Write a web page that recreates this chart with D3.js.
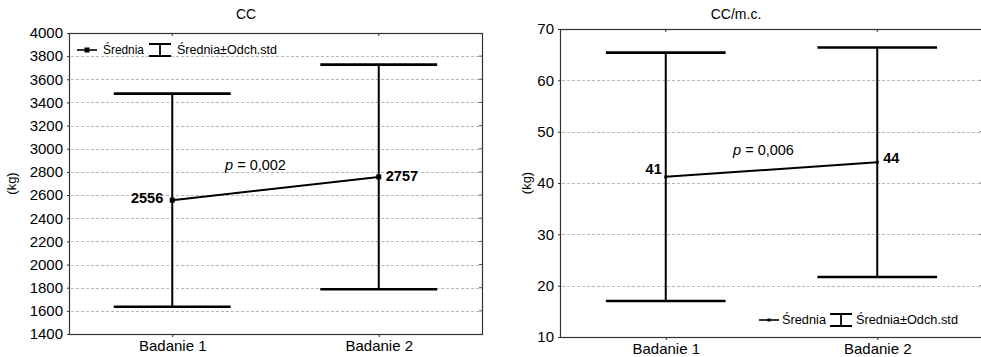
<!DOCTYPE html>
<html>
<head>
<meta charset="utf-8">
<script src="https://cdn.jsdelivr.net/npm/d3@7"></script>
<style>
html,body{margin:0;padding:0;background:#fff;overflow:hidden;}
text{font-family:"Liberation Sans",Arial,Helvetica,sans-serif;fill:#000;}
</style>
</head>
<body>
<svg id="chart" width="981" height="357"></svg>
<script>
// ---- data ----
const categories = ["Badanie 1", "Badanie 2"];
const ccMean = [2556, 2757];
const ccSD = [920, 970];
const ccTicks = [1400,1600,1800,2000,2200,2400,2600,2800,3000,3200,3400,3600,3800,4000];
const ccmcMean = [41.2, 44.05];
const ccmcSD = [24.2, 22.35];
const ccmcTicks = [10,20,30,40,50,60,70];
const titles = ["CC", "CC/m.c."];
const pTexts = ["0,002", "0,006"];
const yLabel = "(kg)";
const legendLabels = ["Średnia", "Średnia±Odch.std"];

const svg = d3.select("#chart");

function panel(cfg) {
  const g = svg.append("g");
  const x = d3.scalePoint().domain(categories).range([cfg.x0, cfg.x1]).padding(0.5);
  const y = d3.scaleLinear().domain(cfg.domain).range([cfg.yBot, cfg.yTop]);
  const step = x.step();
  const capHalf = step * 0.283;

  // title
  g.append("text").attr("x", cfg.titleX).attr("y", 19).attr("text-anchor", "middle")
    .style("font-size", "14px").text(cfg.title);

  // grid
  const inner = cfg.ticks.slice(1, -1);
  g.append("g").selectAll("line").data(inner).join("line")
    .attr("x1", cfg.x0 + 2).attr("x2", cfg.x1 - 1)
    .attr("y1", d => Math.round(y(d)) + 0.5).attr("y2", d => Math.round(y(d)) + 0.5)
    .attr("stroke", "#b8b8b8").attr("stroke-width", 1).attr("stroke-dasharray", "3,2");

  // axes
  const yAxis = d3.axisLeft(y).tickValues(cfg.ticks).tickSize(2).tickPadding(4).tickFormat(d3.format("d"));
  const ya = g.append("g").attr("transform", `translate(${cfg.x0},0)`).call(yAxis);
  ya.select(".domain").remove();
  ya.selectAll("text").style("font-size", "15px").attr("font-family", "Liberation Sans");
  ya.selectAll("line").attr("stroke", "#333");

  const xAxis = d3.axisBottom(x).tickSize(3).tickPadding(3);
  const xa = g.append("g").attr("transform", `translate(0,${cfg.yBot})`).call(xAxis);
  xa.select(".domain").remove();
  xa.selectAll("text").style("font-size", "15px").attr("font-family", "Liberation Sans");
  xa.selectAll("line").attr("stroke", "#333");

  // top ticks inward
  g.append("g").selectAll("line").data(categories).join("line")
    .attr("x1", d => x(d)).attr("x2", d => x(d))
    .attr("y1", cfg.yTop).attr("y2", cfg.yTop + 3).attr("stroke", "#333");
  // right ticks inward
  g.append("g").selectAll("line").data(inner).join("line")
    .attr("x1", cfg.x1 - 3).attr("x2", cfg.x1)
    .attr("y1", d => y(d)).attr("y2", d => y(d)).attr("stroke", "#555");

  // frame
  g.append("rect").attr("x", cfg.x0 + 0.5).attr("y", cfg.yTop + 0.5)
    .attr("width", cfg.x1 - cfg.x0).attr("height", cfg.yBot - cfg.yTop)
    .attr("fill", "none").attr("stroke", "#333").attr("stroke-width", 1.2);

  // y label
  g.append("text").attr("transform", `translate(${cfg.yLabelX},${(cfg.yTop + cfg.yBot) / 2}) rotate(-90)`)
    .attr("text-anchor", "middle").style("font-size", "13px").text(yLabel);

  const data = categories.map((c, i) => ({c, m: cfg.mean[i], sd: cfg.sd[i]}));

  // error bars
  const eb = g.append("g");
  eb.selectAll("line.v").data(data).join("line").attr("class", "v")
    .attr("x1", d => x(d.c)).attr("x2", d => x(d.c))
    .attr("y1", d => y(d.m + d.sd)).attr("y2", d => y(d.m - d.sd))
    .attr("stroke", "#000").attr("stroke-width", 2);
  eb.selectAll("line.t").data(data).join("line").attr("class", "t")
    .attr("x1", d => x(d.c) - capHalf).attr("x2", d => x(d.c) + capHalf)
    .attr("y1", d => y(d.m + d.sd)).attr("y2", d => y(d.m + d.sd))
    .attr("stroke", "#000").attr("stroke-width", 2.6);
  eb.selectAll("line.b").data(data).join("line").attr("class", "b")
    .attr("x1", d => x(d.c) - capHalf).attr("x2", d => x(d.c) + capHalf)
    .attr("y1", d => y(d.m - d.sd)).attr("y2", d => y(d.m - d.sd))
    .attr("stroke", "#000").attr("stroke-width", 2.6);

  // mean line
  const line = d3.line().x(d => x(d.c)).y(d => y(d.m));
  g.append("path").datum(data).attr("d", line).attr("fill", "none")
    .attr("stroke", "#000").attr("stroke-width", 2);
  g.selectAll("rect.pt").data(data).join("rect").attr("class", "pt")
    .attr("x", d => x(d.c) - cfg.ms / 2).attr("y", d => y(d.m) - cfg.ms / 2)
    .attr("width", cfg.ms).attr("height", cfg.ms).attr("fill", "#000");

  // value labels
  g.append("text").attr("x", x(categories[0]) + cfg.lab0[0]).attr("y", y(data[0].m) + cfg.lab0[1])
    .attr("text-anchor", "end").attr("dominant-baseline", "central")
    .style("font-size", "14.5px").style("font-weight", "bold").text(Math.round(data[0].m));
  g.append("text").attr("x", x(categories[1]) + cfg.lab1[0]).attr("y", y(data[1].m) + cfg.lab1[1])
    .attr("text-anchor", "start").attr("dominant-baseline", "central")
    .style("font-size", "14.5px").style("font-weight", "bold").text(Math.round(data[1].m));

  // p text
  const mx = (x(categories[0]) + x(categories[1])) / 2;
  const my = (y(data[0].m) + y(data[1].m)) / 2;
  const pt = g.append("text").attr("x", mx + cfg.pOff[0]).attr("y", my + cfg.pOff[1])
    .attr("text-anchor", "middle").attr("dominant-baseline", "central").style("font-size", "14.5px");
  pt.append("tspan").style("font-style", "italic").text("p");
  pt.append("tspan").text(" = " + cfg.p);

  // legend
  const L = cfg.leg;
  const lg = g.append("g");
  lg.append("line").attr("x1", L.x).attr("x2", L.x + 20).attr("y1", L.y).attr("y2", L.y)
    .attr("stroke", "#000").attr("stroke-width", 1.6);
  lg.append("rect").attr("x", L.x + 10 - cfg.ms / 2).attr("y", L.y - cfg.ms / 2)
    .attr("width", cfg.ms).attr("height", cfg.ms).attr("fill", "#000");
  lg.append("text").attr("x", L.t1).attr("y", L.y).attr("dominant-baseline", "central")
    .style("font-size", L.fs + "px").attr("textLength", L.w1).attr("lengthAdjust", "spacingAndGlyphs")
    .text(legendLabels[0]);
  const ex = L.e;
  lg.append("line").attr("x1", ex + 11).attr("x2", ex + 11).attr("y1", L.y - 6).attr("y2", L.y + 6)
    .attr("stroke", "#000").attr("stroke-width", 1.8);
  lg.append("line").attr("x1", ex).attr("x2", ex + 22).attr("y1", L.y - 6).attr("y2", L.y - 6)
    .attr("stroke", "#000").attr("stroke-width", 2);
  lg.append("line").attr("x1", ex).attr("x2", ex + 22).attr("y1", L.y + 6).attr("y2", L.y + 6)
    .attr("stroke", "#000").attr("stroke-width", 2);
  lg.append("text").attr("x", L.t2).attr("y", L.y).attr("dominant-baseline", "central")
    .style("font-size", L.fs + "px").attr("textLength", L.w2).attr("lengthAdjust", "spacingAndGlyphs")
    .text(legendLabels[1]);
}

panel({
  title: titles[0], titleX: 246, x0: 69, x1: 482, yTop: 33, yBot: 334,
  domain: [1400, 4000], ticks: ccTicks, mean: ccMean, sd: ccSD, ms: 5,
  yLabelX: 16, lab0: [-9, -2], lab1: [7, -1], pOff: [-20, -24], p: pTexts[0],
  leg: {x: 77, y: 50, t1: 103, w1: 41, e: 149, t2: 177, w2: 100, fs: 12}
});
panel({
  title: titles[1], titleX: 736, x0: 560, x1: 983, yTop: 29, yBot: 337,
  domain: [10, 70], ticks: ccmcTicks, mean: ccmcMean, sd: ccmcSD, ms: 3,
  yLabelX: 531, lab0: [-4, -8], lab1: [6, -4], pOff: [-8, -20], p: pTexts[1],
  leg: {x: 759, y: 320, t1: 782, w1: 44, e: 830, t2: 856, w2: 102, fs: 12}
});
</script>
</body>
</html>
